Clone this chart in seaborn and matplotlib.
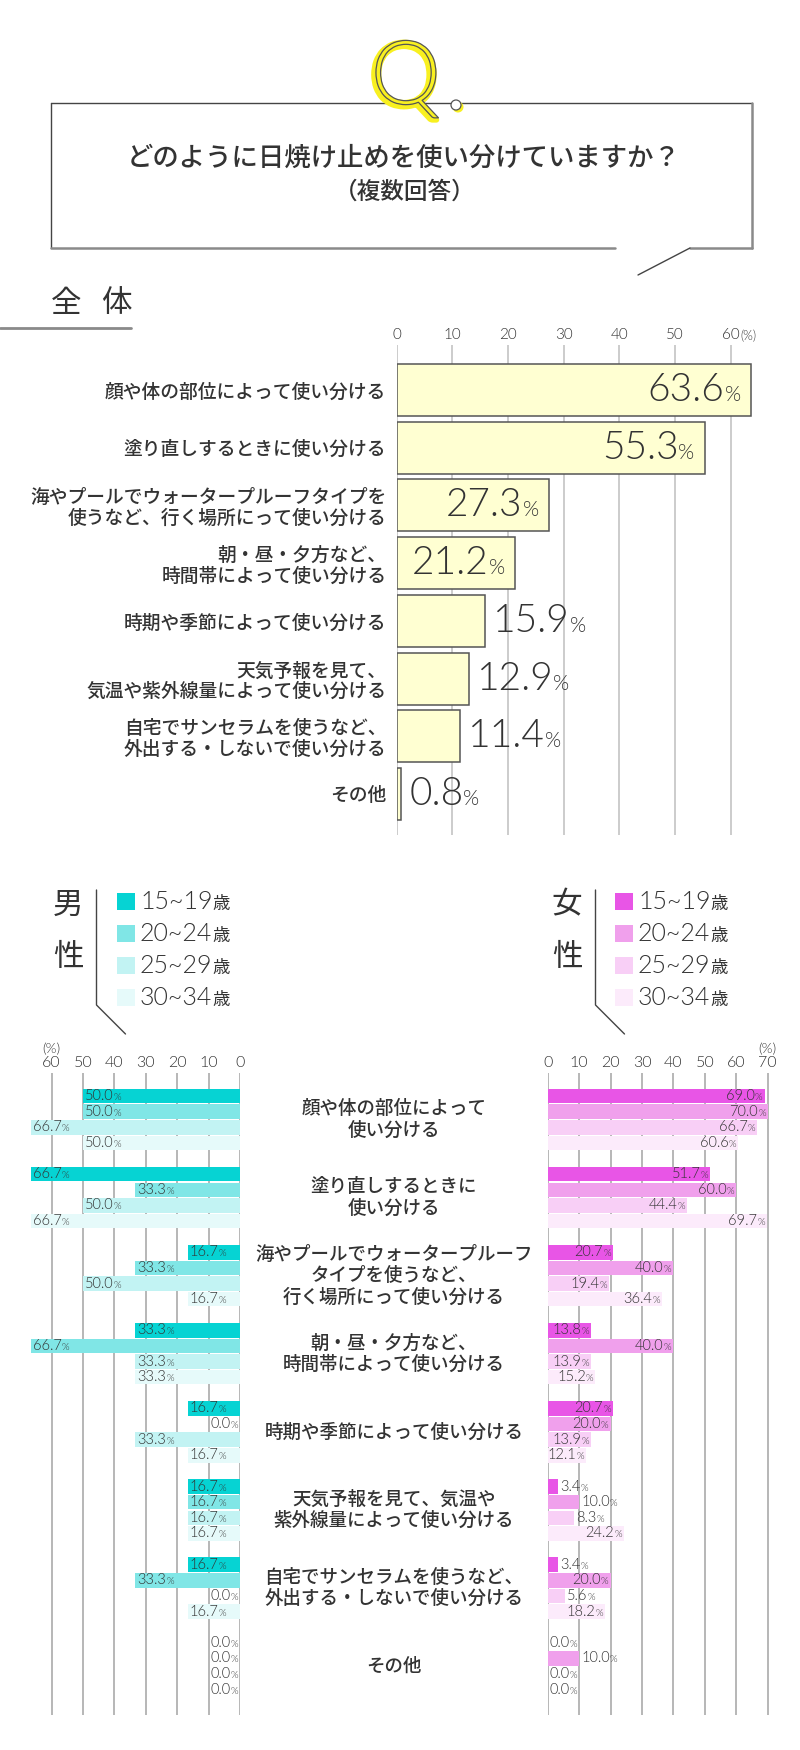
import numpy as np
import pandas as pd
import matplotlib
matplotlib.use("Agg")
import matplotlib.pyplot as plt
import seaborn as sns
import matplotlib.transforms as mtransforms
import matplotlib.patheffects as pe
from matplotlib.offsetbox import TextArea, HPacker, AnnotationBbox
from matplotlib.patches import Rectangle, Circle

# ---------------- data ----------------
title = "どのように日焼け止めを使い分けていますか？"
subtitle = "（複数回答）"

categories = [
    "顔や体の部位によって使い分ける",
    "塗り直しするときに使い分ける",
    "海やプールでウォータープルーフタイプを使うなど、行く場所にって使い分ける",
    "朝・昼・夕方など、時間帯によって使い分ける",
    "時期や季節によって使い分ける",
    "天気予報を見て、気温や紫外線量によって使い分ける",
    "自宅でサンセラムを使うなど、外出する・しないで使い分ける",
    "その他",
]
top_labels = [
    "顔や体の部位によって使い分ける",
    "塗り直しするときに使い分ける",
    "海やプールでウォータープルーフタイプを\n使うなど、行く場所にって使い分ける",
    "朝・昼・夕方など、\n時間帯によって使い分ける",
    "時期や季節によって使い分ける",
    "天気予報を見て、\n気温や紫外線量によって使い分ける",
    "自宅でサンセラムを使うなど、\n外出する・しないで使い分ける",
    "その他",
]
bottom_labels = [
    "顔や体の部位によって\n使い分ける",
    "塗り直しするときに\n使い分ける",
    "海やプールでウォータープルーフ\nタイプを使うなど、\n行く場所にって使い分ける",
    "朝・昼・夕方など、\n時間帯によって使い分ける",
    "時期や季節によって使い分ける",
    "天気予報を見て、気温や\n紫外線量によって使い分ける",
    "自宅でサンセラムを使うなど、\n外出する・しないで使い分ける",
    "その他",
]
total_values = [63.6, 55.3, 27.3, 21.2, 15.9, 12.9, 11.4, 0.8]

age_groups = ["15~19歳", "20~24歳", "25~29歳", "30~34歳"]

male_15_19 = [50.0, 66.7, 16.7, 33.3, 16.7, 16.7, 16.7, 0.0]
male_20_24 = [50.0, 33.3, 33.3, 66.7, 0.0, 16.7, 33.3, 0.0]
male_25_29 = [66.7, 50.0, 50.0, 33.3, 33.3, 16.7, 0.0, 0.0]
male_30_34 = [50.0, 66.7, 16.7, 33.3, 16.7, 16.7, 16.7, 0.0]

female_15_19 = [69.0, 51.7, 20.7, 13.8, 20.7, 3.4, 3.4, 0.0]
female_20_24 = [70.0, 60.0, 40.0, 40.0, 20.0, 10.0, 20.0, 10.0]
female_25_29 = [66.7, 44.4, 19.4, 13.9, 13.9, 8.3, 5.6, 0.0]
female_30_34 = [60.6, 69.7, 36.4, 15.2, 12.1, 24.2, 18.2, 0.0]

total_ticks = [0, 10, 20, 30, 40, 50, 60]
male_ticks = [0, 10, 20, 30, 40, 50, 60]
female_ticks = [0, 10, 20, 30, 40, 50, 60, 70]

male_colors = ["#06D3D3", "#80E6E6", "#C2F3F3", "#E6FAFA"]
female_colors = ["#E855E6", "#F0A0EC", "#F8CFF6", "#FCEBFB"]
bar_fill = "#FFFFD2"
bar_edge = "#555555"
TXT = "#333333"

# ---------------- style ----------------
sns.set_theme(style="white")
JP = ["Noto Sans CJK JP", "DejaVu Sans"]
NUM = ["Lato", "Noto Sans CJK JP", "DejaVu Sans"]
NW = 300  # Lato Light
plt.rcParams["font.family"] = JP
plt.rcParams["text.color"] = TXT

W, H = 800, 1750
fig = plt.figure(figsize=(W / 100, H / 100), dpi=100)
PT = 0.72  # points per pixel at 100 dpi


def px_axes(x0, y0, x1, y1, **kw):
    return fig.add_axes([x0 / W, 1 - y1 / H, (x1 - x0) / W, (y1 - y0) / H], **kw)


def rich(ax, xy, parts, align, offset_px=(0, 0), xycoords="data", zorder=6):
    boxes = [TextArea(s, textprops=dict(fontsize=fs, color=TXT, family=fam, fontweight=fw))
             for s, fs, fam, fw in parts]
    pack = HPacker(children=boxes, align="baseline", pad=0, sep=0)
    ab = AnnotationBbox(pack, xy, xycoords=xycoords,
                        xybox=(offset_px[0] * PT, offset_px[1] * PT), boxcoords="offset points",
                        box_alignment=align, frameon=False, pad=0, annotation_clip=False)
    ab.set_zorder(zorder)
    ax.add_artist(ab)


# ---------------- decoration layer (pixel coordinates) ----------------
deco = fig.add_axes([0, 0, 1, 1], zorder=0)
deco.set_xlim(0, W)
deco.set_ylim(H, 0)
deco.axis("off")

# question box
deco.plot([51, 752], [103, 103], color="#444444", lw=1.0)
deco.plot([51, 51], [103, 248], color="#444444", lw=1.0)
deco.plot([752, 752], [103, 248], color="#8a8a8a", lw=1.8)
deco.plot([51, 615], [248, 248], color="#8a8a8a", lw=1.8)
deco.plot([690, 752], [248, 248], color="#8a8a8a", lw=1.8)
deco.plot([690, 638], [248, 275], color="#444444", lw=1.0)
# Q. logo
deco.text(404, 106, "Q", fontsize=64, family=NUM, fontweight=NW, color="#F8F020",
          ha="center", va="baseline", zorder=3,
          path_effects=[pe.Stroke(linewidth=4, foreground="#F8F020"), pe.Normal()])
deco.text(406, 104, "Q", fontsize=64, family=NUM, fontweight=NW, color=(1, 1, 1, 0),
          ha="center", va="baseline", zorder=4,
          path_effects=[pe.Stroke(linewidth=0.9, foreground="#555555")])
deco.add_patch(Circle((458, 107), 5.5, fc="#F8F020", ec="none", zorder=3))
deco.add_patch(Circle((456, 105), 5, fc="white", ec="#555555", lw=0.9, zorder=4))

deco.text(404, 158, title, fontsize=19, fontweight="medium", ha="center", va="center", color=TXT)
deco.text(405, 192, subtitle, fontsize=17, fontweight="medium", ha="center", va="center",
          color=TXT)

# section header
deco.text(66, 304, "全", fontsize=22, ha="center", va="center", color=TXT)
deco.text(116, 304, "体", fontsize=22, ha="center", va="center", color=TXT)
deco.plot([0, 131], [328, 328], color="#8a8a8a", lw=2)

# gender headers + legends
for gx, glyph, sq_x, cols in [(68, "男", 117, male_colors), (567, "女", 615, female_colors)]:
    deco.text(gx, 905, glyph, fontsize=22, ha="center", va="center", color=TXT)
    deco.text(gx, 957, "性", fontsize=22, ha="center", va="center", color=TXT)
    lx = gx + 28.5
    deco.plot([lx, lx, lx + 29], [890, 1005, 1034], color="#444444", lw=1.0)
    for j, (age, c) in enumerate(zip(age_groups, cols)):
        cy = 901 + 32 * j
        deco.add_patch(Rectangle((sq_x, cy - 8.5), 18, 17, fc=c, ec="none"))
        rich(deco, (sq_x + 23, cy),
             [(age[:-1], 18, NUM, NW), (age[-1], 12.5, JP, "normal")], (0, 0.5),
             offset_px=(0, -1))

# ---------------- overall chart ----------------
T_X0, T_PX = 396.7, 5.567
T_C0, T_PITCH = 390.0, 57.71
ax = px_axes(T_X0, 345, 797, 835)
ax.patch.set_alpha(0)
df_total = pd.DataFrame({"category": categories, "value": total_values})
sns.barplot(data=df_total, x="value", y="category", orient="h", order=categories,
            color=bar_fill, edgecolor=bar_edge, linewidth=1.1, width=0.9, saturation=1, ax=ax)
ax.set_xlim(0, (797 - T_X0) / T_PX)
ax.set_ylim((835 - T_C0) / T_PITCH, (345 - T_C0) / T_PITCH)
ax.set_xticks(total_ticks)
ax.set_xticklabels([str(t) for t in total_ticks], fontsize=11, family=NUM, fontweight=NW,
                   color=TXT)
ax.xaxis.tick_top()
ax.tick_params(axis="x", length=0, pad=2)
ax.set_yticks(range(len(categories)))
ax.set_yticklabels(top_labels, fontsize=13.5, fontweight="medium", color=TXT)
for lab in ax.get_yticklabels():
    lab.set_linespacing(1.1)
ax.tick_params(axis="y", length=0, pad=7.5)
ax.grid(axis="x", color="#cccccc", lw=1.4)
ax.grid(axis="y", visible=False)
ax.set_axisbelow(True)
for s in ax.spines.values():
    s.set_visible(False)
ax.set_xlabel("")
ax.set_ylabel("")
ax.annotate("(%)", xy=(total_ticks[-1], 1), xycoords=("data", "axes fraction"),
            xytext=(7, 2), textcoords="offset points", ha="left", va="bottom",
            fontsize=9, family=NUM, fontweight=NW, color=TXT)
for i, v in enumerate(total_values):
    parts = [(f"{v:.1f}", 28, NUM, NW), ("%", 15, NUM, NW)]
    if v > 20:
        rich(ax, (v, i), parts, (1, 0.5), offset_px=(-10, 0))
    else:
        rich(ax, (v, i), parts, (0, 0.5), offset_px=(8, 0))

# ---------------- gender charts ----------------
B_C0, B_PITCH = 1119.5, 78.1
B_Y0, B_Y1 = 1073, 1715
M_X0, M_PX = 240.0, 3.14
F_X0, F_PX = 547.7, 3.143


def long_df(series):
    rows = []
    for age, vals in zip(age_groups, series):
        for cat, v in zip(categories, vals):
            rows.append({"category": cat, "age": age, "value": v})
    return pd.DataFrame(rows)


df_m = long_df([male_15_19, male_20_24, male_25_29, male_30_34])
df_f = long_df([female_15_19, female_20_24, female_25_29, female_30_34])

axm = px_axes(20, B_Y0, M_X0, B_Y1)
axf = px_axes(F_X0, B_Y0, 790, B_Y1)
for a, d, pal in [(axm, df_m, male_colors), (axf, df_f, female_colors)]:
    a.patch.set_alpha(0)
    sns.barplot(data=d, x="value", y="category", hue="age", order=categories,
                hue_order=age_groups, palette=pal, orient="h", width=0.8, gap=0.07,
                saturation=1, legend=False, ax=a, linewidth=0)
    a.set_ylim((B_Y1 - B_C0) / B_PITCH, (B_Y0 - B_C0) / B_PITCH)
    a.xaxis.tick_top()
    a.tick_params(axis="x", length=0, pad=2)
    a.set_yticks([])
    a.grid(axis="x", color="#aaaaaa", lw=1.2)
    a.grid(axis="y", visible=False)
    a.set_axisbelow(True)
    for s in a.spines.values():
        s.set_visible(False)
    a.set_xlabel("")
    a.set_ylabel("")

axm.set_xlim((M_X0 - 20) / M_PX, 0)
axm.set_xticks(male_ticks)
axm.set_xticklabels([str(t) for t in male_ticks], fontsize=11.5, family=NUM, fontweight=NW,
                    color=TXT)
axf.set_xlim(0, (790 - F_X0) / F_PX)
axf.set_xticks(female_ticks)
axf.set_xticklabels([str(t) for t in female_ticks], fontsize=11.5, family=NUM,
                    fontweight=NW, color=TXT)
axm.annotate("(%)", xy=(male_ticks[-1], 1), xycoords=("data", "axes fraction"),
             xytext=(0, 13), textcoords="offset points", ha="center", va="bottom",
             fontsize=10, family=NUM, fontweight=NW, color=TXT)
axf.annotate("(%)", xy=(female_ticks[-1], 1), xycoords=("data", "axes fraction"),
             xytext=(0, 13), textcoords="offset points", ha="center", va="bottom",
             fontsize=10, family=NUM, fontweight=NW, color=TXT)

# value labels
for container in axm.containers:
    for bar in container:
        v = bar.get_width()
        yc = bar.get_y() + bar.get_height() / 2
        parts = [(f"{v:.1f}", 10.5, NUM, NW), ("%", 7, NUM, NW)]
        if v > 0:
            rich(axm, (v, yc), parts, (0, 0.5), offset_px=(2, 0))
        else:
            rich(axm, (v, yc), parts, (1, 0.5), offset_px=(-2, 0))
for container in axf.containers:
    for bar in container:
        v = bar.get_width()
        yc = bar.get_y() + bar.get_height() / 2
        parts = [(f"{v:.1f}", 10.5, NUM, NW), ("%", 7, NUM, NW)]
        if v >= 12:
            rich(axf, (v, yc), parts, (1, 0.5), offset_px=(-2, 0))
        else:
            rich(axf, (v, yc), parts, (0, 0.5), offset_px=(2, 0))

# center category labels
center_tr = mtransforms.blended_transform_factory(fig.transFigure, axf.transData)
for i, lab in enumerate(bottom_labels):
    axf.text(((M_X0 + F_X0) / 2) / W, i, lab, transform=center_tr, ha="center", va="center",
             fontsize=13.3, fontweight="medium", color=TXT, linespacing=1.15, clip_on=False)

fig.savefig("out.png", dpi=100, facecolor="white")
